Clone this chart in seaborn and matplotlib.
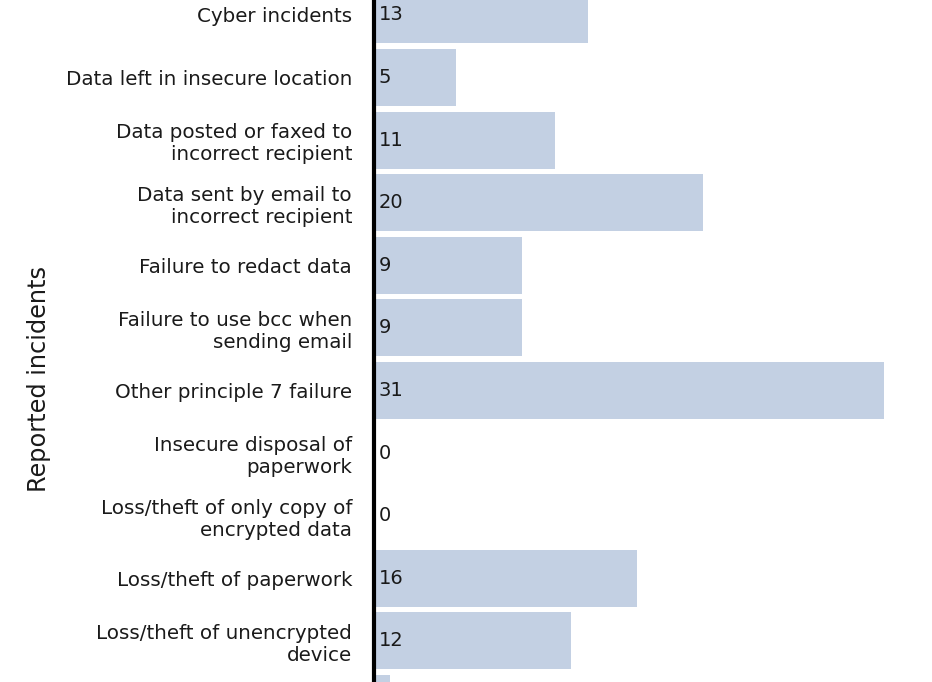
import pandas as pd
import matplotlib
matplotlib.use("Agg")
import matplotlib.pyplot as plt
import seaborn as sns

categories = [
    "Cyber incidents",
    "Data left in insecure location",
    "Data posted or faxed to\nincorrect recipient",
    "Data sent by email to\nincorrect recipient",
    "Failure to redact data",
    "Failure to use bcc when\nsending email",
    "Other principle 7 failure",
    "Insecure disposal of\npaperwork",
    "Loss/theft of only copy of\nencrypted data",
    "Loss/theft of paperwork",
    "Loss/theft of unencrypted\ndevice",
    "Insecure disposal of hardware",
]
incidents = [13, 5, 11, 20, 9, 9, 31, 0, 0, 16, 12, 1]

df = pd.DataFrame({"category": categories, "incidents": incidents})

sns.set_style("white")
plt.rcParams["font.family"] = ["DejaVu Sans"]

fig = plt.figure(figsize=(9.32, 6.82), dpi=100)
# the chart is cropped at the top and bottom, so the axes run past the figure
ax = fig.add_axes([374 / 932, -0.0774, (884 - 374) / 932, 1.1015])

sns.barplot(data=df, x="incidents", y="category", color="#c3d0e3",
            saturation=1, width=0.91, linewidth=0, ax=ax)

ax.set_xlim(0, 31)
ax.set_ylim(len(categories) - 0.5, -0.5)

# last row sits below the visible area: no text for it
n_visible = len(categories) - 1
for i, v in enumerate(incidents[:n_visible]):
    ax.text(0.3, i, str(v), va="center", ha="left", fontsize=14, color="#1a1a1a")

ax.set_xlabel("")
ax.set_ylabel("Reported incidents", fontsize=17.3, color="#1a1a1a")
ax.yaxis.set_label_coords(-0.633, 0.4735)
ax.set_xticks([])
ax.tick_params(axis="y", length=0, pad=15.8, labelsize=14.3, labelcolor="#1a1a1a")
for i, lbl in enumerate(ax.get_yticklabels()):
    lbl.set_horizontalalignment("right")
    if i >= n_visible:
        lbl.set_visible(False)

for side in ["top", "right", "bottom"]:
    ax.spines[side].set_visible(False)
ax.spines["left"].set_linewidth(3)
ax.spines["left"].set_color("black")

fig.savefig("out.png", dpi=100)
